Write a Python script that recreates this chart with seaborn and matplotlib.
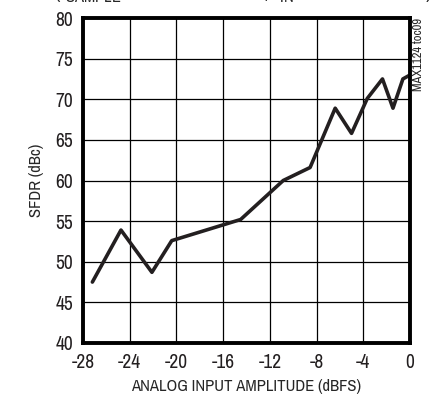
"""SFDR vs analog input amplitude, redrawn with seaborn."""
import matplotlib
matplotlib.use("Agg")
import matplotlib.pyplot as plt
from matplotlib import font_manager
import seaborn as sns
import pandas as pd

# values
amplitude_dbfs = [-27.2, -24.75, -22.1, -20.4, -14.5, -10.85, -8.55,
                  -6.4, -5.0, -3.65, -2.35, -1.45, -0.6, -0.1]
sfdr_dbc = [47.5, 53.9, 48.7, 52.6, 55.2, 60.0, 61.6,
            68.9, 65.8, 70.1, 72.5, 68.9, 72.5, 72.9]
x_ticks = list(range(-28, 1, 4))
y_ticks = list(range(40, 81, 5))

sns.set_style("white")

# a narrow sans face looks closest to the original, if one is installed
names = sorted({f.name for f in font_manager.fontManager.ttflist})
narrow = [n for n in names if "Narrow" in n or "Condensed" in n]
plt.rcParams["font.family"] = narrow[:1] + ["Liberation Sans", "DejaVu Sans"]
if narrow:
    plt.rcParams["mathtext.fontset"] = "custom"
    plt.rcParams["mathtext.rm"] = narrow[0]
    plt.rcParams["mathtext.bf"] = narrow[0] + ":bold"

df = pd.DataFrame({"amp": amplitude_dbfs, "sfdr": sfdr_dbc})

fig = plt.figure(figsize=(4.37, 4.0), dpi=100)
ax = fig.add_axes([0.190, 0.1425, 0.748, 0.8125])
sns.lineplot(data=df, x="amp", y="sfdr", sort=False, color="#231f20",
             linewidth=2.6, ax=ax)

ax.set_xlim(-28, 0)
ax.set_ylim(40, 80)
ax.set_xticks(x_ticks)
ax.set_yticks(y_ticks)
ax.set_xticklabels([str(t) for t in x_ticks])
ax.grid(True, color="black", linewidth=0.9)
ax.tick_params(length=0, labelsize=14, pad=7, colors="#231f20")
for s in ax.spines.values():
    s.set_linewidth(2.8)
    s.set_color("black")

ax.set_xlabel("ANALOG INPUT AMPLITUDE (dBFS)", fontsize=12, labelpad=5)
ax.set_ylabel("SFDR (dBc)", fontsize=12, labelpad=8)

fig.text(0.958, 0.955, "MAX1124 toc09", rotation=90, fontsize=9,
         ha="center", va="top")
fig.text(0.557, 1.003,
         "(f$_{\\mathbf{SAMPLE}}$ = 250.0057MHz, f$_{\\mathbf{IN}}$ = 65.0183MHz)",
         fontsize=17, fontweight="bold", ha="center", va="baseline")

fig.savefig("out.png", dpi=100)
